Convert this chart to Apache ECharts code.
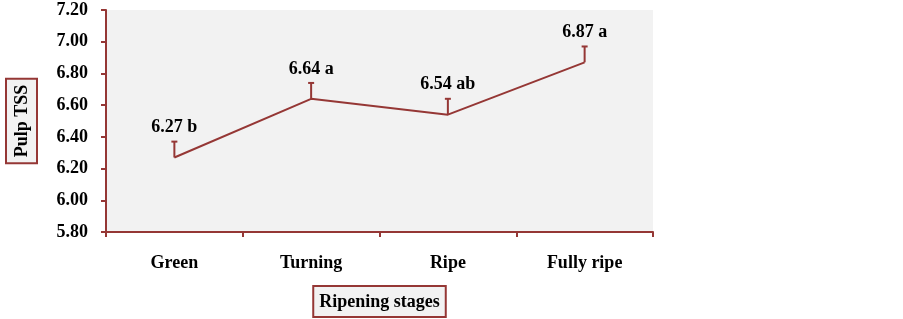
<!DOCTYPE html>
<html>
<head>
<meta charset="utf-8">
<script src="https://cdn.jsdelivr.net/npm/echarts@6/dist/echarts.min.js"></script>
<style>
  html, body { margin: 0; padding: 0; background: #fff; }
  #main { width: 903px; height: 319px; }
</style>
</head>
<body>
<div id="main"></div>
<script>
// ripening stages
var stages = ['Green', 'Turning', 'Ripe', 'Fully ripe'];
// mean pulp TSS
var tssMean = [6.27, 6.64, 6.54, 6.87];
// upper error (SE)
var tssErr = [0.10, 0.10, 0.10, 0.10];
// significance letters
var letters = ['b', 'a', 'ab', 'a'];

var red = '#953735';
var font = '"Liberation Serif", "DejaVu Serif", serif';

var chart = echarts.init(document.getElementById('main'));

var errData = stages.map(function (s, i) {
  return [i, tssMean[i], tssMean[i] + tssErr[i], tssMean[i].toFixed(2) + ' ' + letters[i]];
});

var option = {
  animation: false,
  grid: {
    left: 106, right: 250, top: 10, bottom: 87,
    outerBoundsMode: 'none',
    containLabel: false,
    show: true, backgroundColor: '#f2f2f2', borderWidth: 0
  },
  xAxis: {
    type: 'category',
    data: stages,
    boundaryGap: true,
    axisLine: { lineStyle: { color: red, width: 2 } },
    axisTick: { show: true, length: 5, lineStyle: { color: red, width: 2 }, alignWithLabel: false },
    axisLabel: { margin: 22, color: '#000', fontFamily: font, fontWeight: 'bold', fontSize: 18 },
    name: 'Ripening stages',
    nameLocation: 'middle',
    nameGap: 55,
    nameTextStyle: {
      color: '#000', fontFamily: font, fontWeight: 'bold', fontSize: 18,
      borderColor: red, borderWidth: 2, backgroundColor: '#f2f2f2',
      padding: [6, 5, 5, 5]
    }
  },
  yAxis: {
    type: 'value',
    min: 5.8, max: 7.2, interval: 0.2,
    axisLine: { show: true, lineStyle: { color: red, width: 2 } },
    axisTick: { show: true, length: 5, lineStyle: { color: red, width: 2 } },
    splitLine: { show: false },
    axisLabel: {
      margin: 18, color: '#000', fontFamily: font, fontWeight: 'bold', fontSize: 18,
      formatter: function (v) { return v.toFixed(2); }
    },
    name: 'Pulp TSS',
    nameLocation: 'middle',
    nameRotate: 90,
    nameGap: 70,
    nameTextStyle: {
      color: '#000', fontFamily: font, fontWeight: 'bold', fontSize: 18,
      borderColor: red, borderWidth: 2, backgroundColor: '#f2f2f2',
      padding: [6, 5, 5, 5]
    }
  },
  series: [
    {
      type: 'line',
      data: tssMean,
      symbol: 'none',
      lineStyle: { color: red, width: 2 },
      z: 3
    },
    {
      type: 'custom',
      data: errData,
      z: 4,
      renderItem: function (params, api) {
        var low = api.coord([api.value(0), api.value(1)]);
        var high = api.coord([api.value(0), api.value(2)]);
        var style = { stroke: red, lineWidth: 2 };
        return {
          type: 'group',
          children: [
            { type: 'line', shape: { x1: low[0], y1: low[1], x2: high[0], y2: high[1] }, style: style },
            { type: 'line', shape: { x1: high[0] - 3, y1: high[1], x2: high[0] + 3, y2: high[1] }, style: style },
            {
              type: 'text',
              x: high[0], y: high[1] - 5,
              style: {
                text: errData[params.dataIndex][3],
                fill: '#000', font: 'bold 18px ' + font,
                align: 'center', verticalAlign: 'bottom'
              }
            }
          ]
        };
      }
    }
  ]
};

chart.setOption(option);
</script>
</body>
</html>
